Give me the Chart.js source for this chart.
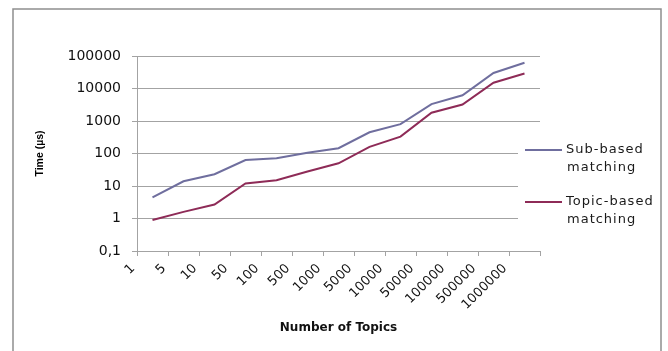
<!DOCTYPE html>
<html>
<head>
<meta charset="utf-8">
<script src="https://cdn.jsdelivr.net/npm/chart.js@4/dist/chart.umd.min.js"></script>
<style>
  html, body { margin: 0; padding: 0; background: #fff; }
  #wrap { width: 668px; height: 351px; }
</style>
</head>
<body>
<div id="wrap"><canvas id="c" width="668" height="351"></canvas></div>
<script>
// Number of topics (category axis)
const topics = ['1', '5', '10', '50', '100', '500', '1000', '5000', '10000', '50000', '100000', '500000', '1000000'];
// Matching time in microseconds
const subBased = [4.5, 14, 23, 63, 72, 105, 145, 450, 800, 3300, 6200, 30000, 62000];
const topicBased = [0.9, 1.6, 2.7, 12, 15, 28, 50, 160, 330, 1800, 3200, 15000, 29000];
// Decade ticks of the time axis and their printed labels
const timeTicks = [0.1, 1, 10, 100, 1000, 10000, 100000];
const timeTickLabels = ['0,1', '1', '10', '100', '1000', '10000', '100000'];
// Legend entries
const seriesNames = [['Sub-based', 'matching'], ['Topic-based', 'matching']];
const seriesColors = ['#6f6e9e', '#8e2b57'];

const GRID = '#a3a3a3';

// White page, grey frame, and the legend drawn over the right part of the plot
const framePlugin = {
  id: 'frame',
  beforeDraw(chart) {
    const ctx = chart.ctx;
    ctx.save();
    ctx.fillStyle = '#fff';
    ctx.fillRect(0, 0, chart.width, chart.height);
    ctx.strokeStyle = '#8e8e8e';
    ctx.lineWidth = 1.5;
    ctx.strokeRect(13, 9, 648, 360);
    ctx.restore();
  },
  afterDraw(chart) {
    const ctx = chart.ctx;
    ctx.save();
    ctx.fillStyle = '#fff';
    ctx.fillRect(518, 136, 138, 100);
    ctx.font = '13px "DejaVu Sans"';
    ctx.letterSpacing = '1px';
    ctx.textBaseline = 'middle';
    ctx.fillStyle = '#1a1a1a';
    const rows = [150, 202];
    seriesNames.forEach((lines, i) => {
      const y = rows[i];
      ctx.strokeStyle = seriesColors[i];
      ctx.lineWidth = 2;
      ctx.beginPath();
      ctx.moveTo(525, y);
      ctx.lineTo(562, y);
      ctx.stroke();
      ctx.fillText(lines[0], 566, y);
      ctx.fillText(lines[1], 567, y + 18);
    });
    ctx.restore();
  }
};

new Chart(document.getElementById('c'), {
  type: 'line',
  data: {
    labels: topics,
    datasets: [
      {
        label: 'Sub-based matching',
        data: subBased.map((v, i) => ({ x: i, y: v })),
        borderColor: seriesColors[0],
        borderWidth: 2,
        pointRadius: 0,
        tension: 0
      },
      {
        label: 'Topic-based matching',
        data: topicBased.map((v, i) => ({ x: i, y: v })),
        borderColor: seriesColors[1],
        borderWidth: 2,
        pointRadius: 0,
        tension: 0
      }
    ]
  },
  options: {
    responsive: false,
    devicePixelRatio: 1,
    animation: false,
    layout: { padding: { left: 0, right: 128, top: 56, bottom: 0 } },
    plugins: {
      legend: { display: false },
      tooltip: { enabled: false }
    },
    scales: {
      x: {
        type: 'linear',
        min: -0.5,
        max: topics.length - 0.5,
        afterBuildTicks(scale) {
          const t = topics.map((_, i) => ({ value: i - 0.5 }));
          t.push({ value: topics.length - 0.5 });
          scale.ticks = t;
        },
        afterFit(scale) { scale.height = 100; },
        grid: { drawOnChartArea: false, drawTicks: true, tickLength: 5, color: GRID },
        border: { color: GRID, width: 1 },
        ticks: {
          autoSkip: false,
          minRotation: 45,
          maxRotation: 45,
          padding: 5,
          labelOffset: -4,
          color: '#111',
          font: { family: 'DejaVu Sans', size: 13 },
          callback: (v, i) => (i < topics.length ? topics[i] : '')
        },
        title: {
          display: true,
          text: 'Number of Topics',
          color: '#111',
          font: { family: 'DejaVu Sans', size: 12, weight: 'bold' },
          padding: { top: 0, bottom: 16 }
        }
      },
      y: {
        type: 'logarithmic',
        min: 0.1,
        max: 100000,
        afterBuildTicks(scale) {
          scale.ticks = timeTicks.map(v => ({ value: v }));
        },
        afterFit(scale) { scale.width = 137; },
        grid: { color: GRID, tickLength: 5, lineWidth: 1 },
        border: { color: GRID, width: 1 },
        ticks: {
          padding: 11,
          color: '#111',
          font: { family: 'DejaVu Sans', size: 14 },
          callback: (v) => {
            const i = timeTicks.indexOf(v);
            return i >= 0 ? timeTickLabels[i] : '';
          }
        },
        title: {
          display: true,
          text: 'Time (µs)',
          color: '#000',
          font: { family: 'Liberation Sans', size: 10.5, weight: 'bold' },
          padding: { top: 34, bottom: 0 }
        }
      }
    }
  },
  plugins: [framePlugin]
});
</script>
</body>
</html>
